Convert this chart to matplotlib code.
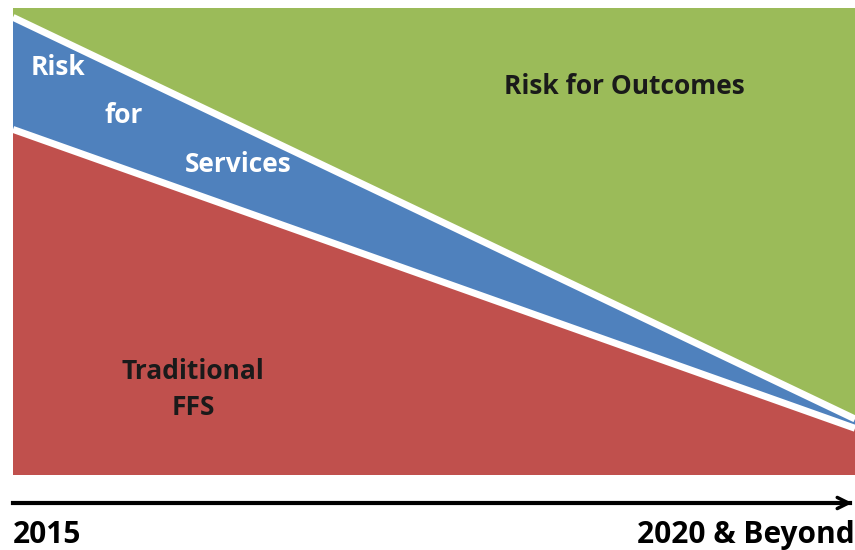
import numpy as np
import matplotlib.pyplot as plt

# 数据：各类付费模式占比（百分比），从 2015 到 2020
years = [2015, 2020]
traditional_ffs = [74, 10]
risk_services = [24, 2]
risk_outcomes = [2, 88]

colors = ['#C0504D', '#4F81BD', '#9BBB59']

plt.rcParams['font.family'] = ['Open Sans', 'DejaVu Sans']

fig = plt.figure(figsize=(8.55, 5.5), dpi=100)
ax = fig.add_axes([13 / 855, 75 / 550, 842 / 855, 467 / 550])

ax.stackplot(years, traditional_ffs, risk_services, risk_outcomes,
             colors=colors, linewidth=0)
# 区域之间的白色分隔线
cum1 = np.array(traditional_ffs)
cum2 = cum1 + np.array(risk_services)
ax.plot(years, cum1, color='white', linewidth=5, solid_capstyle='butt')
ax.plot(years, cum2, color='white', linewidth=5, solid_capstyle='butt')
ax.set_xlim(2015, 2020)
ax.set_ylim(0, 100)
ax.axis('off')

# 区域标签
ax.text(2015.27, 87.2, 'Risk', color='white', fontsize=19, fontweight='bold',
        ha='center', va='center')
ax.text(2015.66, 76.9, 'for', color='white', fontsize=19, fontweight='bold',
        ha='center', va='center')
ax.text(2016.34, 66.4, 'Services', color='white', fontsize=19, fontweight='bold',
        ha='center', va='center')
ax.text(2016.07, 18.3, 'Traditional\nFFS', color='#1a1a1a', fontsize=19,
        fontweight='bold', ha='center', va='center', linespacing=1.45)
ax.text(2018.63, 83.1, 'Risk for Outcomes', color='#1a1a1a', fontsize=19,
        fontweight='bold', ha='center', va='center')

# 时间轴箭头
fig.add_artist(plt.Line2D([13 / 855, 850 / 855], [1 - 503 / 550] * 2,
                          color='black', linewidth=3))
ax.annotate('', xy=(1.0, 1 - 503 / 550), xytext=(840 / 855, 1 - 503 / 550),
            xycoords='figure fraction', textcoords='figure fraction',
            arrowprops=dict(arrowstyle='->', color='black', lw=2.5,
                            mutation_scale=20))
fig.text(13 / 855, 1 - 535 / 550, '2015', fontsize=21.5, fontweight='bold',
         ha='left', va='center')
fig.text(1.0, 1 - 535 / 550, '2020 & Beyond', fontsize=21.5, fontweight='bold',
         ha='right', va='center')

fig.savefig('out.png', dpi=100)
